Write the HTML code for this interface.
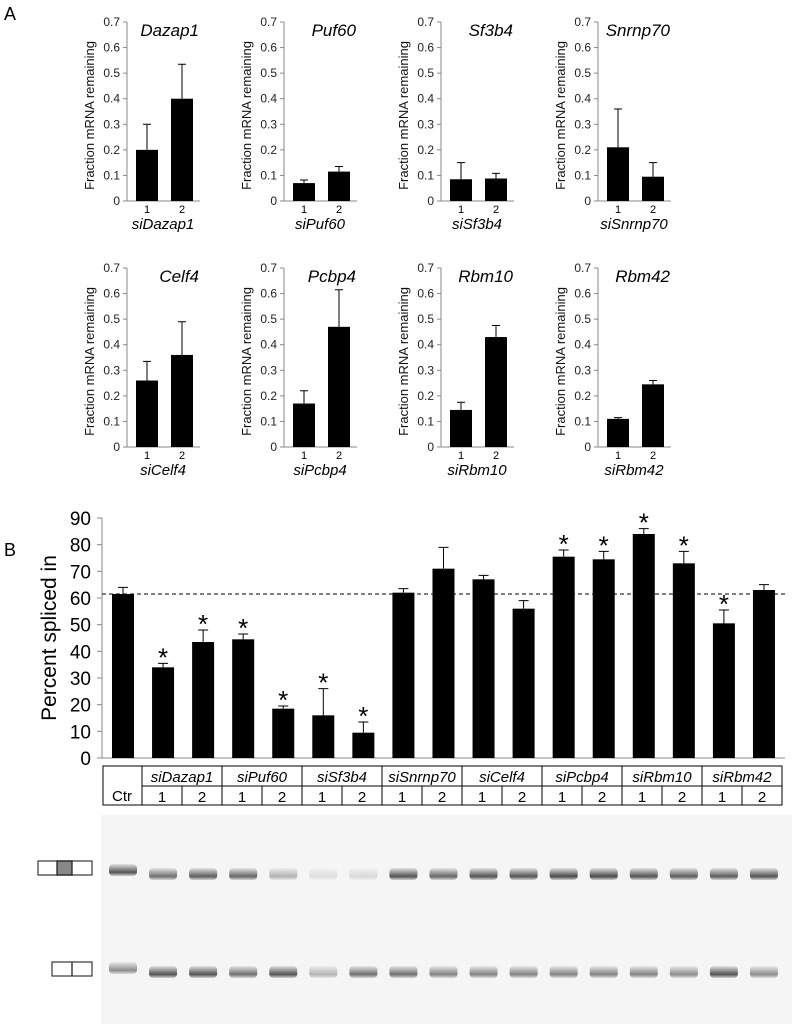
<!DOCTYPE html>
<html><head><meta charset="utf-8"><style>
body{margin:0;background:#fff}
svg{display:block;font-family:"Liberation Sans",sans-serif}
</style></head><body>
<svg id="fig" width="792" height="1024" viewBox="0 0 792 1024">
<text x="4" y="20" font-size="18">A</text>
<text x="4" y="556" font-size="18">B</text>
</svg>
<script>
const smallGenes = ["Dazap1","Puf60","Sf3b4","Snrnp70","Celf4","Pcbp4","Rbm10","Rbm42"];
const smallVals1 = [0.2,0.07,0.085,0.21,0.26,0.17,0.145,0.11];
const smallErr1 = [0.1,0.012,0.065,0.15,0.075,0.05,0.03,0.005];
const smallVals2 = [0.4,0.115,0.088,0.095,0.36,0.47,0.43,0.245];
const smallErr2 = [0.135,0.02,0.02,0.055,0.13,0.145,0.045,0.015];
const smallTicks = ["0","0.1","0.2","0.3","0.4","0.5","0.6","0.7"];

const psiCats = ["Ctr","1","2","1","2","1","2","1","2","1","2","1","2","1","2","1","2"];
const psiVals = [61.5,34,43.5,44.5,18.5,16,9.5,62,71,67,56,75.5,74.5,84,73,50.5,63];
const psiErr = [2.5,1.5,4.5,2,1,10,4,1.5,8,1.5,3,2.5,3,2,4.5,5,2];
const psiStar = [0,1,1,1,1,1,1,0,0,0,0,1,1,1,1,1,0];
const psiTicks = ["0","10","20","30","40","50","60","70","80","90"];
const groups = ["siDazap1","siPuf60","siSf3b4","siSnrnp70","siCelf4","siPcbp4","siRbm10","siRbm42"];
const upperBand = [0.85,0.7,0.8,0.75,0.35,0.12,0.15,0.85,0.75,0.85,0.85,0.9,0.9,0.85,0.8,0.8,0.85];
const lowerBand = [0.55,0.85,0.85,0.7,0.85,0.35,0.7,0.7,0.6,0.6,0.6,0.6,0.6,0.6,0.55,0.85,0.55];

const NS="http://www.w3.org/2000/svg";
const svg=document.getElementById('fig');
function el(tag,attrs,parent,text){const e=document.createElementNS(NS,tag);for(const k in attrs)e.setAttribute(k,attrs[k]);if(text!==undefined)e.textContent=text;(parent||svg).appendChild(e);return e;}

// small charts
smallGenes.forEach((g,i)=>{
  const ax=127+157*(i%4), y0=i<4?201:447, H=179;
  const ys=v=>y0-v/0.7*H;
  const grp=el('g',{});
  
  
  const a=el('path',{d:`M${ax} ${y0-H}V${y0}H${ax+73}`,stroke:'#888',fill:'none','stroke-width':1},grp);
  
  smallTicks.forEach((t,k)=>{const y=ys(+t);el('line',{x1:ax-4,x2:ax,y1:y,y2:y,stroke:'#888'},grp);
    const tx=el('text',{x:ax-7,y:y+4,'font-size':12,'text-anchor':'end',fill:'#222'},grp,t);
    });
  const yt=el('text',{x:0,y:0,'font-size':13,'text-anchor':'middle',transform:`translate(${ax-33},${y0-H/2+4}) rotate(-90)`,fill:'#111'},grp,'Fraction mRNA remaining');
  
  const ti=el('text',{x:ax+72,y:y0-H+14,'font-size':17,'font-style':'italic','text-anchor':'end'},grp,g);
  
  [[smallVals1[i],smallErr1[i],20],[smallVals2[i],smallErr2[i],55]].forEach(([v,e,off],j)=>{
    const cx=ax+off;
    const b=el('rect',{x:cx-11,y:ys(v),width:22,height:y0-ys(v),fill:'#000'},grp);
    
    el('path',{d:`M${cx} ${ys(v)}V${ys(v+e)}M${cx-4} ${ys(v+e)}H${cx+4}`,stroke:'#000','stroke-width':1},grp);
    const l=el('text',{x:cx,y:y0+12,'font-size':11,'text-anchor':'middle'},grp,String(j+1));
    
  });
  const xl=el('text',{x:ax+36,y:y0+28,'font-size':15,'font-style':'italic','text-anchor':'middle'},grp,'si'+g);
  
});

// PSI chart
const bx=102, by0=758, bH=240; const bys=v=>by0-v/90*bH; const bcx=i=>123+40.06*i;
const pg=el('g',{});

el('path',{d:`M${bx} ${bys(90)}V${by0}H785`,stroke:'#888',fill:'none'},pg);
psiTicks.forEach(t=>{const y=bys(+t);el('line',{x1:bx-5,x2:bx,y1:y,y2:y,stroke:'#888'},pg);
  const tx=el('text',{x:bx-11,y:y+7,'font-size':19,'text-anchor':'end'},pg,t);
  });
const pyt=el('text',{x:0,y:0,'font-size':21,'text-anchor':'middle',transform:`translate(56,638) rotate(-90)`},pg,'Percent spliced in');

psiVals.forEach((v,i)=>{const cx=bcx(i);
  const b=el('rect',{x:cx-11,y:bys(v),width:22,height:by0-bys(v),fill:'#000'},pg);
  
  el('path',{d:`M${cx} ${bys(v)}V${bys(v+psiErr[i])}M${cx-5} ${bys(v+psiErr[i])}H${cx+5}`,stroke:'#000'},pg);
  if(psiStar[i]){const s=el('text',{x:cx,y:bys(v+psiErr[i])+3,'font-size':26,'text-anchor':'middle'},pg,'*');
    }
});
const dl=el('line',{x1:bx,x2:785,y1:bys(61.5),y2:bys(61.5),stroke:'#000','stroke-dasharray':'4,3'},pg);


// table
const tg=el('g',{});

el('rect',{x:103,y:766,width:679,height:39,fill:'none',stroke:'#000'},tg);
el('line',{x1:142,x2:782,y1:786,y2:786,stroke:'#000'},tg);
const ct=el('text',{x:122,y:801,'font-size':15,'text-anchor':'middle'},tg,'Ctr');

groups.forEach((g,k)=>{const x=142+80*k;
  el('line',{x1:x,x2:x,y1:766,y2:805,stroke:'#000'},tg);
  el('line',{x1:x+40,x2:x+40,y1:786,y2:805,stroke:'#000'},tg);
  const gt=el('text',{x:x+40,y:782,'font-size':15,'font-style':'italic','text-anchor':'middle'},tg,g);
  
  ['1','2'].forEach((n,j)=>{el('text',{x:x+20+40*j,y:802,'font-size':15,'text-anchor':'middle'},tg,n);});
});

// gel
const gg=el('g',{});

el('rect',{x:101,y:815,width:691,height:209,fill:'#f5f5f5'},gg);
const defs=el('defs',{});
const gr=el('linearGradient',{id:'bg',x1:0,y1:0,x2:0,y2:1},defs);
el('stop',{offset:'0','stop-color':'#222','stop-opacity':0.1},gr);
el('stop',{offset:'0.7','stop-color':'#222','stop-opacity':0.9},gr);
el('stop',{offset:'1','stop-color':'#222','stop-opacity':0.2},gr);
psiCats.forEach((c,i)=>{const cx=bcx(i);
  const u=el('rect',{x:cx-14,y:i==0?864:868,width:28,height:12,rx:4,fill:'url(#bg)',opacity:upperBand[i]},gg);
  
  const l=el('rect',{x:cx-14,y:i==0?962:966,width:28,height:12,rx:4,fill:'url(#bg)',opacity:lowerBand[i]},gg);
  
});
const ic1=el('g',{});

el('rect',{x:38,y:861,width:54,height:14,fill:'#fff',stroke:'#444','stroke-width':1.3},ic1);
el('rect',{x:57,y:861,width:15,height:14,fill:'#888',stroke:'#222','stroke-width':1.3},ic1);
const ic2=el('g',{});

el('rect',{x:52,y:962,width:40,height:14,fill:'#fff',stroke:'#444','stroke-width':1.3},ic2);
el('line',{x1:72,x2:72,y1:962,y2:976,stroke:'#222','stroke-width':1.3},ic2);
</script>
</body></html>
